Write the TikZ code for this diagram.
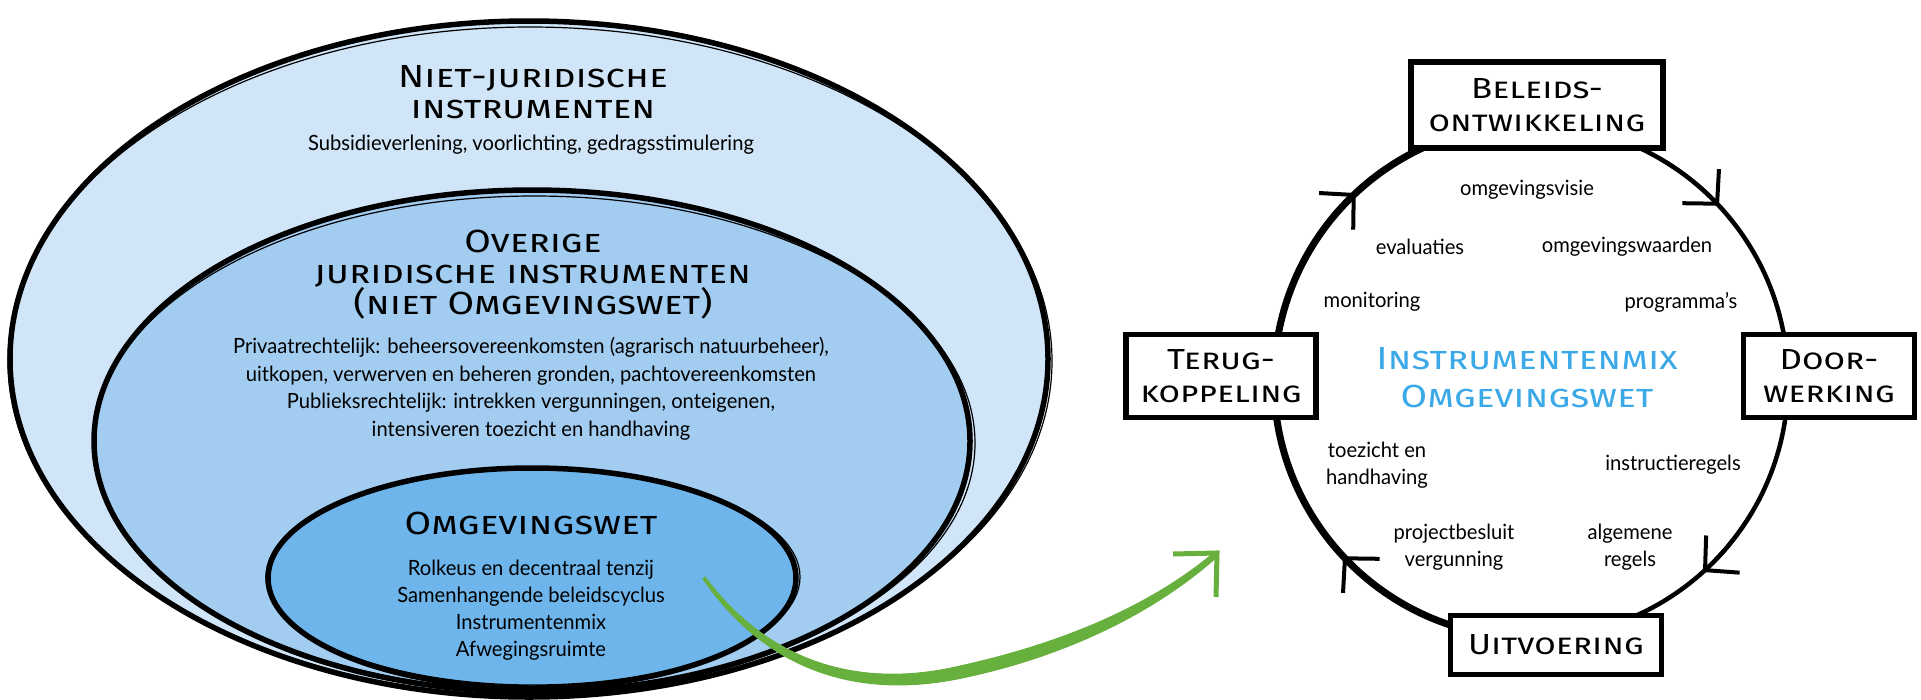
\documentclass[tikz,border=0pt]{standalone}
\usepackage{fontspec}
\setmainfont{Lato}[FakeStretch=0.96]
\newfontfamily\headfont{Fira Sans}[Letters=SmallCaps,FakeStretch=1.2]
\usetikzlibrary{arrows.meta,calc}
\definecolor{outerblue}{RGB}{208,230,248}
\definecolor{midblue}{RGB}{163,205,240}
\definecolor{innerblue}{RGB}{109,181,235}
\definecolor{titleblue}{RGB}{59,168,232}
\definecolor{arrowgreen}{RGB}{103,176,62}
\begin{document}
\begin{tikzpicture}[x=1pt,y=-1pt,
  zone/.style={draw=black,line width=5.5pt},
  sketch/.style={draw=black,line width=1.2pt},
  head/.style={font=\headfont\fontsize{32}{31}\selectfont,align=center,inner sep=0pt},
  body/.style={font=\fontsize{21}{27.5}\selectfont,align=center,inner sep=0pt},
  item/.style={font=\fontsize{21}{27}\selectfont,align=center,inner sep=0pt},
  stage/.style={draw=black,line width=5.5pt,fill=white,align=center,inner sep=0pt,
    font=\headfont\fontsize{29}{33}\selectfont},
  cyc/.style={draw=black,line width=4.5pt},
  barb/.style={draw=black,line width=4pt,-{Straight Barb[length=24pt,width=50pt]}},
  green/.style={fill=arrowgreen,draw=arrowgreen,line width=1pt},
  ghead/.style={draw=arrowgreen,line width=5pt,line cap=butt}
]
\useasboundingbox (0,0) rectangle (1921,699);
% left: nested zones
\draw[zone,fill=outerblue] (529,359) ellipse [x radius=519,y radius=338];
\draw[sketch] (530,361) ellipse [x radius=522,y radius=334];
\draw[zone,fill=midblue] (532,441) ellipse [x radius=438,y radius=251];
\draw[sketch] (534,443) ellipse [x radius=441,y radius=247];
\draw[zone,fill=innerblue] (532,578) ellipse [x radius=264,y radius=110];
\draw[sketch] (533,577) ellipse [x radius=267,y radius=108];

\node[head] (h1) at (533,92) {Niet-juridische\\instrumenten};
\node[body] (b1) at (531,145) {Subsidieverlening, voorlichting, gedragsstimulering};
\node[head] (h2) at (533,275) {Overige\\juridische instrumenten\\(niet Omgevingswet)};
\node[body] (b2) at (531,389) {Privaatrechtelijk: beheersovereenkomsten (agrarisch natuurbeheer),\\uitkopen, verwerven en beheren gronden, pachtovereenkomsten\\Publieksrechtelijk: intrekken vergunningen, onteigenen,\\intensiveren toezicht en handhaving};
\node[head] (h3) at (531,523) {Omgevingswet};
\node[body,font=\fontsize{21}{27}\selectfont] (b3) at (531,610) {Rolkeus en decentraal tenzij\\Samenhangende beleidscyclus\\Instrumentenmix\\Afwegingsruimte};

% right: cycle
\coordinate (c) at (1531,381);
\draw[cyc] (c) circle [radius=257];
\draw[cyc,line width=7pt] ($(c)+(95:257)$) arc[start angle=95,end angle=262,radius=257];
\draw[barb] ($(c)+(210:257)$) arc[start angle=210,end angle=227,radius=257];
\draw[barb] ($(c)+(300:257)$) arc[start angle=300,end angle=317,radius=257];
\draw[barb] ($(c)+(31:257)$) arc[start angle=31,end angle=48,radius=257];
\draw[barb] ($(c)+(120:257)$) arc[start angle=120,end angle=137,radius=257];

\node[stage,minimum width=252pt,minimum height=86pt] (beleid) at (1537,105) {Beleids-\\ontwikkeling};
\node[stage,minimum width=190pt,minimum height=83pt] (terug) at (1221,376) {Terug-\\koppeling};
\node[stage,minimum width=171pt,minimum height=83pt] (door) at (1829,376) {Door-\\werking};
\node[stage,minimum width=211pt,minimum height=59pt] (uitv) at (1556,645) {Uitvoering};

\node[head,text=titleblue,font=\headfont\fontsize{32}{38}\selectfont] (mix) at (1527,378) {Instrumentenmix\\Omgevingswet};

\node[item] (i1) at (1527,190) {omgevingsvisie};
\node[item] (i2) at (1420,247) {evaluaties};
\node[item] (i3) at (1627,247) {omgevingswaarden};
\node[item] (i4) at (1372,302) {monitoring};
\node[item] (i5) at (1681,302) {programma’s};
\node[item] (i6) at (1377,465) {toezicht en\\handhaving};
\node[item] (i7) at (1673,465) {instructieregels};
\node[item] (i8) at (1454,547) {projectbesluit\\vergunning};
\node[item] (i9) at (1630,547) {algemene\\regels};

% green arrow (tapered stroke)
\coordinate (gs) at (705,577);
\coordinate (ge) at (1217,553);
\fill[green] (gs) .. controls (780,677) and (880,685) .. (960,666)
  .. controls (1060,644) and (1150,607) .. ($(ge)+(-1,-2)$)
  -- ($(ge)+(1,3)$) .. controls (1152,615) and (1062,657) .. (962,678)
  .. controls (876,696) and (776,684) .. ($(gs)+(-2,2)$) -- cycle;
\draw[ghead] ($(ge)+(-44,1)$) -- (ge) -- ($(ge)+(-1,44)$);
\end{tikzpicture}
\end{document}
